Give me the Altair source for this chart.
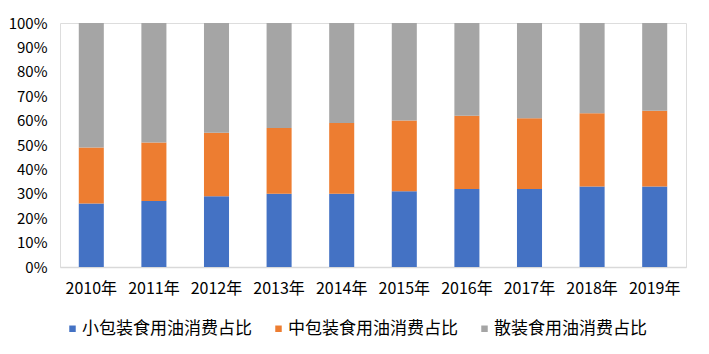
import altair as alt
import pandas as pd

years = ["2010年", "2011年", "2012年", "2013年", "2014年", "2015年", "2016年", "2017年", "2018年", "2019年"]
series = ["小包装食用油消费占比", "中包装食用油消费占比", "散装食用油消费占比"]
small = [26, 27, 29, 30, 30, 31, 32, 32, 33, 33]
medium = [23, 24, 26, 27, 29, 29, 30, 29, 30, 31]
bulk = [51, 49, 45, 43, 41, 40, 38, 39, 37, 36]
colors = ["#4472C4", "#ED7D31", "#A5A5A5"]

rows = []
for i, y in enumerate(years):
    for k, vals in enumerate([small, medium, bulk]):
        rows.append({"year": y, "series": series[k], "value": vals[i], "order": k})
df = pd.DataFrame(rows)

FONT = "Noto Sans CJK SC"

chart = alt.Chart(df).mark_bar().encode(
    x=alt.X("year:N", sort=years, title=None,
            scale=alt.Scale(paddingInner=0.6, paddingOuter=0.3),
            axis=alt.Axis(labelAngle=0, ticks=False, domainColor="#D9D9D9", domainWidth=1.5,
                          labelPadding=13, labelFontSize=16, labelFont=FONT, labelColor="#000000",
                          grid=False)),
    y=alt.Y("value:Q", stack="normalize", title=None,
            scale=alt.Scale(domain=[0, 1]),
            axis=alt.Axis(format=".0%", values=[i / 10 for i in range(11)], domain=False, ticks=False,
                          grid=False, labelPadding=13, labelFontSize=15, labelFont=FONT,
                          labelColor="#000000")),
    color=alt.Color("series:N", sort=series, title=None,
                    scale=alt.Scale(domain=series, range=colors),
                    legend=alt.Legend(orient="none", legendX=4, legendY=297, direction="horizontal",
                                      columns=3, symbolType="square", symbolSize=42,
                                      symbolStrokeWidth=0, labelOffset=1, columnPadding=18,
                                      labelFontSize=17, labelFont=FONT, labelColor="#000000",
                                      labelLimit=300, padding=0)),
    order=alt.Order("order:Q", sort="ascending"),
).properties(
    width=626, height=244,
    autosize=alt.AutoSizeParams(type="none"),
    padding={"left": 60, "top": 23, "right": 23, "bottom": 87},
).configure_view(stroke=None).configure(background="white")

chart.save("out.html", embed_options={"renderer": "svg", "actions": False})
